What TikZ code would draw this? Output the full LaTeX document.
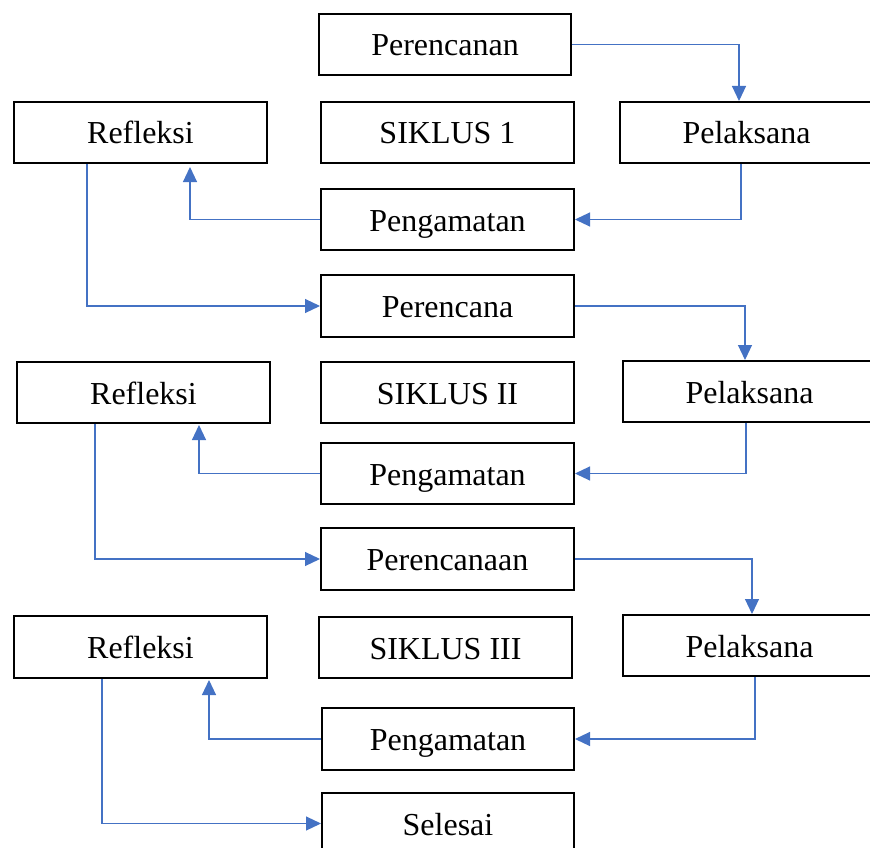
\documentclass[tikz,border=0pt]{standalone}
\usepackage{fontspec}
\setmainfont{Liberation Serif}
\usetikzlibrary{arrows.meta,calc}
\definecolor{linkblue}{HTML}{4472C4}
\tikzset{
  box/.style={draw=black, line width=2pt, fill=white, minimum width=253pt, minimum height=61pt, inner sep=0pt, text height=23pt, text depth=0pt, font=\fontsize{32}{38}\selectfont},
  arr/.style={draw=linkblue, line width=1.1pt, -{Triangle[length=15pt,width=14pt]}}
}
\begin{document}
\begin{tikzpicture}[x=1pt,y=-1pt]
\clip (0,0) rectangle (870,848);
\fill[white] (0,0) rectangle (870,848);
% cycle 1
\node[box, minimum width=252pt] (pc1) at (445,44.5) {Perencanan};
\node[box] (ref1) at (140.5,132.5) {Refleksi};
\node[box] (sik1) at (447.5,132.5) {SIKLUS 1};
\node[box] (pel1) at (746.5,132.5) {Pelaksana};
\node[box] (pg1) at (447.5,219.5) {Pengamatan};
% cycle 2
\node[box, minimum height=62pt] (pc2) at (447.5,306) {Perencana};
\node[box] (ref2) at (143.5,392.5) {Refleksi};
\node[box] (sik2) at (447.5,392.5) {SIKLUS II};
\node[box] (pel2) at (749.5,391.5) {Pelaksana};
\node[box] (pg2) at (447.5,473.5) {Pengamatan};
% cycle 3
\node[box, minimum height=62pt] (pc3) at (447.5,559) {Perencanaan};
\node[box, minimum height=62pt] (ref3) at (140.5,647) {Refleksi};
\node[box] (sik3) at (445.5,647.5) {SIKLUS III};
\node[box] (pel3) at (749.5,645.5) {Pelaksana};
\node[box, minimum width=252pt, minimum height=62pt] (pg3) at (448,739) {Pengamatan};
\node[box, minimum width=252pt] (sel) at (448,823.5) {Selesai};
% connectors cycle 1
\draw[arr] (pc1.east) -| ([xshift=120pt]pel1.north west);
\draw[arr] ([xshift=122pt]pel1.south west) |- (pg1.east);
\draw[arr, shorten >=3pt] (pg1.west) -| ([xshift=177pt]ref1.south west);
\draw[arr] ([xshift=74pt]ref1.south west) |- (pc2.west);
% connectors cycle 2
\draw[arr] (pc2.east) -| ([xshift=123pt]pel2.north west);
\draw[arr] ([xshift=124pt]pel2.south west) |- (pg2.east);
\draw[arr, shorten >=1pt] (pg2.west) -| ([xshift=183pt]ref2.south west);
\draw[arr] ([xshift=79pt]ref2.south west) |- (pc3.west);
% connectors cycle 3
\draw[arr] (pc3.east) -| ([xshift=130pt]pel3.north west);
\draw[arr] ([xshift=133pt]pel3.south west) |- (pg3.east);
\draw[arr, shorten >=1pt] (pg3.west) -| ([xshift=196pt]ref3.south west);
\draw[arr] ([xshift=89pt]ref3.south west) |- (sel.west);
\end{tikzpicture}
\end{document}
